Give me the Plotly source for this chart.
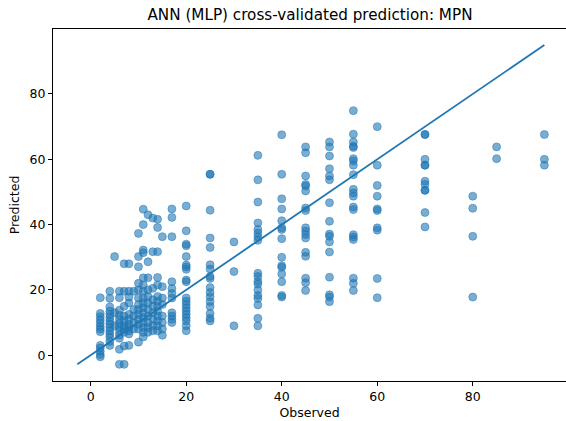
import plotly.graph_objects as go

# Observed values (columns) and predicted values at each observed level
observed_levels = [2, 4, 5, 6, 7, 8, 9, 10, 11, 12, 13, 14, 15, 17, 20, 25, 30, 35, 40, 45, 50, 55, 60, 70, 80, 85, 95]

pred_obs_2 = [17.6, 12.8, 11.8, 10.8, 9.8, 8.8, 8.0, 7.2, 3.0, 2.2, 1.2, 0.2, -0.5]
pred_obs_4 = [19.6, 17.4, 14.8, 13.5, 12.5, 11.5, 10.5, 9.5, 8.5, 7.5, 6.5, 5.5, 4.2, 3.0]
pred_obs_5 = [30.2, 13.0, 9.0]
pred_obs_6 = [19.6, 17.6, 13.8, 12.2, 11.0, 9.8, 8.6, 7.5, 6.2, 5.2, 1.8, -2.8]
pred_obs_7 = [28.0, 19.6, 15.0, 12.0, 10.5, 9.0, 8.0, 7.0, 2.8, -2.8]
pred_obs_8 = [28.0, 19.6, 17.8, 16.0, 12.5, 11.0, 9.5, 8.5, 7.5, 6.5, 3.0]
pred_obs_9 = [19.6, 14.0, 12.0, 10.0, 8.0]
pred_obs_10 = [37.3, 30.2, 27.1, 22.0, 20.0, 17.5, 15.5, 14.0, 12.5, 11.0, 9.5, 8.0, 4.0]
pred_obs_11 = [44.7, 40.0, 32.2, 31.4, 23.7, 21.5, 19.6, 17.5, 16.0, 14.5, 13.0, 11.5, 10.0, 8.5, 7.0, 5.6]
pred_obs_12 = [43.0, 28.6, 23.7, 20.0, 18.0, 16.0, 14.0, 12.0, 10.0, 8.5, 7.0]
pred_obs_13 = [42.0, 31.7, 20.5, 17.0, 15.0, 13.0, 11.0, 9.0, 7.5]
pred_obs_14 = [41.6, 39.1, 31.7, 23.8, 21.5, 18.0, 16.5, 15.0, 13.5, 12.0, 10.5, 9.0, 7.5]
pred_obs_15 = [36.3, 21.0, 17.5, 15.5, 12.0, 10.0, 8.0, 6.1]
pred_obs_17 = [44.8, 42.2, 36.3, 22.5, 20.4, 18.9, 17.5, 13.0, 12.0, 11.0, 10.0]
pred_obs_20 = [45.7, 38.1, 34.0, 33.5, 30.2, 27.6, 27.0, 26.3, 23.0, 22.5, 17.5, 16.5, 15.5,
               14.5, 13.5, 12.5, 11.5, 10.5, 9.0, 7.5]
pred_obs_25 = [55.4, 55.4, 44.4, 35.9, 33.0, 27.7, 26.4, 24.1, 23.5, 20.7, 19.2, 17.9, 16.4,
               14.9, 12.8, 11.3, 10.5]
pred_obs_30 = [34.7, 25.6, 9.0]
pred_obs_35 = [61.2, 53.7, 46.9, 40.5, 38.5, 37.4, 36.2, 35.2, 25.1, 24.1, 22.6, 21.8, 20.0,
               18.3, 17.4, 15.4, 11.3, 9.0]
pred_obs_40 = [67.5, 55.4, 47.9, 44.8, 41.2, 39.0, 38.5, 35.7, 30.0, 27.4, 26.9, 24.9, 22.5, 18.3, 17.8]
pred_obs_45 = [63.8, 62.0, 54.9, 52.3, 51.8, 50.3, 45.1, 44.3, 39.0, 38.0, 37.0, 35.9, 31.5,
               30.3, 23.6, 22.2, 19.8]
pred_obs_50 = [65.3, 63.8, 61.0, 57.1, 54.9, 53.7, 46.7, 41.0, 37.1, 36.4, 34.7, 31.6, 23.9,
               18.5, 17.8, 16.4]
pred_obs_55 = [74.9, 67.7, 65.3, 64.0, 63.6, 60.2, 59.5, 58.2, 55.3, 50.8, 49.7, 48.7, 45.4,
               44.6, 36.9, 36.2, 35.4, 23.6, 22.0, 19.8]
pred_obs_60 = [70.0, 58.2, 52.0, 48.7, 44.8, 44.3, 39.0, 38.3, 23.5, 17.6]
pred_obs_70 = [67.6, 67.6, 60.0, 58.2, 58.2, 53.3, 52.3, 50.5, 50.5, 43.7, 39.3]
pred_obs_80 = [48.7, 45.0, 36.4, 17.8]
pred_obs_85 = [63.8, 60.2]
pred_obs_95 = [67.6, 60.0, 58.2]

pred_columns = [pred_obs_2, pred_obs_4, pred_obs_5, pred_obs_6, pred_obs_7, pred_obs_8, pred_obs_9,
                pred_obs_10, pred_obs_11, pred_obs_12, pred_obs_13, pred_obs_14, pred_obs_15,
                pred_obs_17, pred_obs_20, pred_obs_25, pred_obs_30, pred_obs_35, pred_obs_40,
                pred_obs_45, pred_obs_50, pred_obs_55, pred_obs_60, pred_obs_70, pred_obs_80,
                pred_obs_85, pred_obs_95]

observed = []
predicted = []
for level, preds in zip(observed_levels, pred_columns):
    observed.extend([level] * len(preds))
    predicted.extend(preds)

# identity line from overall min to overall max
line_min = min(min(observed), min(predicted))
line_max = max(max(observed), max(predicted))
identity = [line_min, line_max]

tick_vals = [0, 20, 40, 60, 80]
tick_text = ["0", "20", "40", "60", "80"]

blue = "#1f77b4"
font_family = "DejaVu Sans"

fig = go.Figure()
fig.add_trace(go.Scatter(
    x=observed, y=predicted, mode="markers",
    marker=dict(color="rgba(31,119,180,0.6)", size=8,
                line=dict(width=0.8, color="rgba(31,119,180,0.6)")),
    showlegend=False, hoverinfo="skip",
))
fig.add_trace(go.Scatter(
    x=identity, y=identity, mode="lines",
    line=dict(color=blue, width=1.8),
    showlegend=False, hoverinfo="skip",
))

fig.update_layout(
    width=566, height=421,
    margin=dict(l=53, r=0, t=29, b=40),
    paper_bgcolor="white", plot_bgcolor="white",
    font=dict(family=font_family, color="black", size=12.5),
    title=dict(text="ANN (MLP) cross-validated prediction: MPN",
               x=310 / 566, xref="container", xanchor="center",
               y=1 - 15 / 421, yref="container", yanchor="middle",
               font=dict(family=font_family, size=15.2, color="black")),
)
fig.update_xaxes(
    range=[-7.9, 99.53], tickvals=tick_vals, ticktext=tick_text,
    showgrid=False, zeroline=False,
    showline=True, mirror=True, linecolor="black", linewidth=1,
    ticks="outside", ticklen=4, tickwidth=1, tickcolor="black",
    tickfont=dict(size=12.5, color="black"),
    title=dict(text="Observed", font=dict(size=12.5, color="black"), standoff=5),
)
fig.update_yaxes(
    range=[-7.9, 99.9], tickvals=tick_vals, ticktext=tick_text,
    showgrid=False, zeroline=False,
    showline=True, mirror=False, linecolor="black", linewidth=1,
    ticks="outside", ticklen=4, tickwidth=1, tickcolor="black",
    tickfont=dict(size=12.5, color="black"),
    title=dict(text="Predicted", font=dict(size=12.5, color="black"), standoff=7),
)

fig.write_html("out.html")
